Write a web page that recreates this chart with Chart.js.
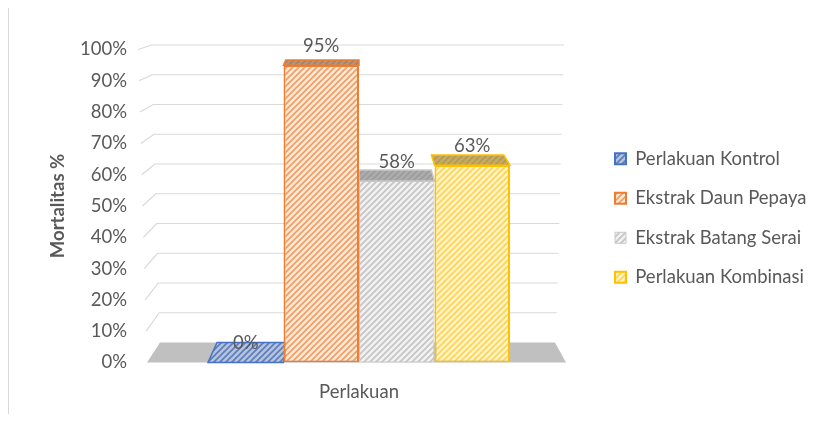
<!DOCTYPE html>
<html>
<head>
<meta charset="utf-8">
<script src="https://cdn.jsdelivr.net/npm/chart.js@4.4.1/dist/chart.umd.min.js"></script>
<style>
  body { margin: 0; background: #fff; }
  canvas { display: block; }
</style>
</head>
<body>
<canvas id="chart" width="818" height="421"></canvas>
<script>
// data
const categories = ['Perlakuan'];
const seriesNames = ['Perlakuan Kontrol', 'Ekstrak Daun Pepaya', 'Ekstrak Batang Serai', 'Perlakuan Kombinasi'];
const mortalitas = [0, 95, 58, 63];
const yTickValues = [0, 10, 20, 30, 40, 50, 60, 70, 80, 90, 100];

const FONT = 'Lato';
const SIZE = 18.5;
const TEXT = '#595959';

// "wide upward diagonal" hatch like the excel pattern fill
function hatch(bg, fg) {
  const c = document.createElement('canvas');
  c.width = c.height = 6;
  const g = c.getContext('2d');
  g.fillStyle = bg;
  g.fillRect(0, 0, 6, 6);
  g.strokeStyle = fg;
  g.lineWidth = 1.6;
  g.beginPath();
  g.moveTo(-1, 7); g.lineTo(7, -1);
  g.moveTo(-1, 1); g.lineTo(1, -1);
  g.moveTo(5, 7); g.lineTo(7, 5);
  g.stroke();
  return g.createPattern(c, 'repeat');
}

const styles = [
  { face: hatch('#b9c3d6', '#5a7cc0'), top: hatch('#b9c3d6', '#5a7cc0'), border: '#4472C4' },
  { face: hatch('#fdeadc', '#f29c5e'), top: hatch('#b39482', '#a4826c'), border: '#ED7D31' },
  { face: hatch('#f1f1f1', '#c4c4c4'), top: hatch('#adadad', '#9c9c9c'), border: '#c8c8c8' },
  { face: hatch('#fff4cf', '#ffd350'), top: hatch('#c4ab66', '#b49a4e'), border: '#FFC000' }
];

// legend sits at x=594, so work out the right padding from the real label width
// (the legend clips to its own box)
const LEGEND_PAD = 21, BOX = 11;
const mctx = document.createElement('canvas').getContext('2d');
mctx.font = SIZE + 'px ' + FONT;
const legendW = LEGEND_PAD + BOX + SIZE / 2 +
  Math.max(...seriesNames.map(s => mctx.measureText(s).width)) + 10;
const padRight = Math.max(0, 818 - 594 - legendW);

// floor, side wall gridlines and the top faces of the columns
const box3d = {
  id: 'box3d',
  beforeDraw(chart) {
    const ctx = chart.ctx;
    ctx.save();
    ctx.fillStyle = '#fff';
    ctx.fillRect(0, 0, chart.width, chart.height);
    ctx.strokeStyle = '#d9d9d9';
    ctx.lineWidth = 1;
    ctx.beginPath();
    ctx.moveTo(8.5, 8);
    ctx.lineTo(8.5, 414);
    ctx.stroke();
    ctx.restore();
  },
  beforeDatasetsDraw(chart) {
    const { ctx, chartArea: { left: L, right: R } } = chart;
    const y = chart.scales.y;
    const y0 = y.getPixelForValue(0);
    ctx.save();

    // floor
    ctx.fillStyle = '#c0c0c0';
    ctx.beginPath();
    ctx.moveTo(L - 3, y0);
    ctx.lineTo(L + 10, y0 - 20);
    ctx.lineTo(R - 13, y0 - 20);
    ctx.lineTo(R - 2, y0);
    ctx.closePath();
    ctx.fill();

    // gridlines on side + back wall
    ctx.strokeStyle = '#d9d9d9';
    ctx.lineWidth = 1.2;
    yTickValues.forEach(t => {
      if (t === 0) return;
      const v = t / 100;
      const yf = y.getPixelForValue(t);
      const yb = yf - (20 - 15.5 * v);
      ctx.beginPath();
      ctx.moveTo(L - 3 - 9 * v, yf);
      ctx.lineTo(L + 10 - 8.5 * v, yb);
      ctx.lineTo(R - 12 + 8 * v, yb);
      ctx.stroke();
    });

    // top faces
    const vx = (L + R) / 2;
    chart.data.datasets.forEach((ds, i) => {
      const bar = chart.getDatasetMeta(i).data[0];
      const half = bar.width / 2;
      const x1 = bar.x - half, x2 = bar.x + half;
      const v = ds.data[0] / 100;
      const d = 20 - 15.5 * v;
      const k = 0.02 + d * 0.002;
      ctx.fillStyle = styles[i].top;
      ctx.strokeStyle = styles[i].border;
      ctx.lineWidth = 1.5;
      ctx.beginPath();
      ctx.moveTo(x1, bar.y);
      ctx.lineTo(x1 + (vx - x1) * k, bar.y - d);
      ctx.lineTo(x2 + (vx - x2) * k, bar.y - d);
      ctx.lineTo(x2, bar.y);
      ctx.closePath();
      ctx.fill();
      ctx.stroke();
    });
    ctx.restore();
  },
  afterDatasetsDraw(chart) {
    const ctx = chart.ctx;
    const y = chart.scales.y;
    ctx.save();
    ctx.font = SIZE + 'px ' + FONT;
    ctx.fillStyle = TEXT;
    ctx.textAlign = 'center';
    ctx.textBaseline = 'middle';
    chart.data.datasets.forEach((ds, i) => {
      const bar = chart.getDatasetMeta(i).data[0];
      ctx.fillText(ds.data[0] + '%', bar.x, y.getPixelForValue(ds.data[0]) - 19);
    });
    ctx.restore();
  }
};

const datasets = seriesNames.map((name, i) => ({
  label: name,
  data: [mortalitas[i]],
  backgroundColor: styles[i].face,
  borderColor: styles[i].border,
  borderWidth: i === 2 ? 1 : 2,
  borderSkipped: false
}));

new Chart(document.getElementById('chart'), {
  type: 'bar',
  data: { labels: categories, datasets: datasets },
  plugins: [box3d],
  options: {
    responsive: false,
    animation: false,
    devicePixelRatio: 1,
    categoryPercentage: 0.7225,
    barPercentage: 1,
    layout: { padding: { top: 15, bottom: 0, left: 43, right: padRight } },
    plugins: {
      tooltip: { enabled: false },
      legend: {
        position: 'right',
        align: 'center',
        maxWidth: 400,
        labels: {
          color: TEXT,
          font: { family: FONT, size: SIZE },
          boxWidth: BOX,
          boxHeight: BOX,
          padding: LEGEND_PAD
        }
      }
    },
    scales: {
      x: {
        grid: { display: false },
        border: { display: false },
        ticks: { color: TEXT, font: { family: FONT, size: SIZE }, padding: 10 },
        afterFit: s => { s.height = 58.5; }
      },
      y: {
        min: 0,
        max: 100,
        grid: { display: false, drawTicks: false },
        border: { display: false },
        afterBuildTicks: s => { s.ticks = yTickValues.map(v => ({ value: v })); },
        ticks: {
          color: TEXT,
          font: { family: FONT, size: SIZE },
          padding: 23,
          callback: v => v + '%'
        },
        title: {
          display: true,
          text: 'Mortalitas %',
          color: TEXT,
          font: { family: FONT, size: SIZE, weight: 'bold' }
        },
        afterFit: s => { s.width = 107; }
      },
      xTop: {
        type: 'linear',
        axis: 'x',
        position: 'top',
        grid: { display: false },
        border: { display: false },
        ticks: { display: false },
        afterFit: s => { s.height = 34.5; }
      },
      yRight: {
        type: 'linear',
        axis: 'y',
        position: 'right',
        grid: { display: false },
        border: { display: false },
        ticks: { display: false },
        afterFit: s => { s.width = 26; }
      }
    }
  }
});
</script>
</body>
</html>
